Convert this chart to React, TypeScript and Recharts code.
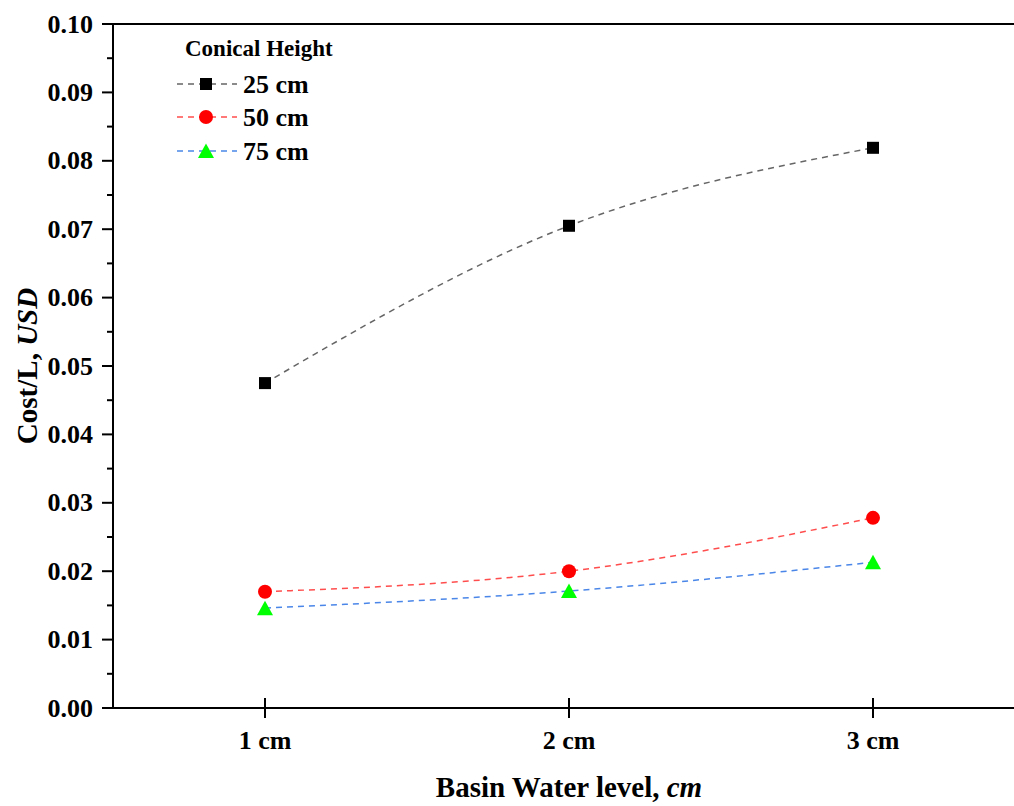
import React from 'react';
import { LineChart, Line, XAxis, YAxis, Legend, ReferenceLine } from 'recharts';

const waterLevels = [1, 2, 3];
const waterLevelLabels = ['1 cm', '2 cm', '3 cm'];
const seriesNames = ['25 cm', '50 cm', '75 cm'];
const cost25 = [0.0475, 0.0705, 0.0819];
const cost50 = [0.017, 0.02, 0.0278];
const cost75 = [0.0146, 0.0171, 0.0213];
const yMajorTicks = [0, 0.01, 0.02, 0.03, 0.04, 0.05, 0.06, 0.07, 0.08, 0.09, 0.1];
const yMinorTicks = [0.005, 0.015, 0.025, 0.035, 0.045, 0.055, 0.065, 0.075, 0.085, 0.095];

const data = waterLevels.map((x, i) => ({ x, c25: cost25[i], c50: cost50[i], c75: cost75[i] }));
const yTicks = [...yMajorTicks, ...yMinorTicks].sort((a, b) => a - b);

const FONT = "'Liberation Serif', 'Times New Roman', serif";
const COLORS = { c25: '#666666', c50: '#ff4d4d', c75: '#4a86e8' };

const isMajor = (v: number) => yMajorTicks.some((m) => Math.abs(m - v) < 1e-9);

const YTick = (props: any) => {
  const { x, y, payload } = props;
  const major = isMajor(payload.value);
  return (
    <g>
      <line x1={x - (major ? 11 : 6)} x2={x} y1={y} y2={y} stroke="#000" strokeWidth={2} />
      {major && (
        <text x={x - 20} y={y} textAnchor="end" dominantBaseline="central" fontFamily={FONT} fontWeight="bold" fontSize={26} fill="#000">
          {payload.value.toFixed(2)}
        </text>
      )}
    </g>
  );
};

const XTick = (props: any) => {
  const { x, y, payload } = props;
  const idx = waterLevels.indexOf(payload.value);
  return (
    <g>
      <line x1={x} x2={x} y1={y - 10} y2={y + 10} stroke="#000" strokeWidth={2} />
      <text x={x} y={y + 41} textAnchor="middle" fontFamily={FONT} fontWeight="bold" fontSize={26} fill="#000">
        {idx >= 0 ? waterLevelLabels[idx] : ''}
      </text>
    </g>
  );
};

const Square = (p: any) => (
  <rect key={`s-${p.index}`} x={p.cx - 6} y={p.cy - 6} width={12} height={12} fill="#000" />
);
const Circle = (p: any) => (
  <circle key={`c-${p.index}`} cx={p.cx} cy={p.cy} r={7} fill="#ff0000" />
);
const Triangle = (p: any) => (
  <polygon
    key={`t-${p.index}`}
    points={`${p.cx},${p.cy - 7.5} ${p.cx - 8},${p.cy + 7} ${p.cx + 8},${p.cy + 7}`}
    fill="#00ff00"
  />
);

const XLabel = (props: any) => {
  const vb = props.viewBox || {};
  const cx = vb.x + vb.width / 2;
  return (
    <text x={cx} y={797} textAnchor="middle" fontFamily={FONT} fontWeight="bold" fontSize={29} fill="#000">
      <tspan>Basin Water level, </tspan>
      <tspan fontStyle="italic">cm</tspan>
    </text>
  );
};

const YLabel = (props: any) => {
  const vb = props.viewBox || {};
  const cy = vb.y + vb.height / 2;
  const cx = 27;
  return (
    <text x={cx} y={cy} transform={`rotate(-90, ${cx}, ${cy})`} textAnchor="middle" dominantBaseline="central" fontFamily={FONT} fontWeight="bold" fontSize={29} fill="#000">
      <tspan>Cost/L, </tspan>
      <tspan fontStyle="italic">USD</tspan>
    </text>
  );
};

const LegendBox = () => {
  const rows = [
    { key: 'c25', y: 54, marker: 'square' },
    { key: 'c50', y: 87, marker: 'circle' },
    { key: 'c75', y: 121, marker: 'triangle' },
  ];
  return (
    <svg width={220} height={140} style={{ display: 'block', overflow: 'visible' }}>
      <text x={15} y={18} dominantBaseline="central" fontFamily={FONT} fontWeight="bold" fontSize={23} fill="#000">
        Conical Height
      </text>
      {rows.map((r, i) => (
        <g key={r.key}>
          <line x1={7} x2={67} y1={r.y} y2={r.y} stroke={(COLORS as any)[r.key]} strokeWidth={1.5} strokeDasharray="6 5" />
          {r.marker === 'square' && <rect x={30} y={r.y - 6} width={12} height={12} fill="#000" />}
          {r.marker === 'circle' && <circle cx={36} cy={r.y} r={7} fill="#ff0000" />}
          {r.marker === 'triangle' && (
            <polygon points={`36,${r.y - 7.5} 28,${r.y + 7} 44,${r.y + 7}`} fill="#00ff00" />
          )}
          <text x={73} y={r.y} dominantBaseline="central" fontFamily={FONT} fontWeight="bold" fontSize={26} fill="#000">
            {seriesNames[i]}
          </text>
        </g>
      ))}
    </svg>
  );
};

export default function App() {
  return (
    <div style={{ position: 'absolute', left: 0, top: 0, width: 1014, height: 806, overflow: 'hidden', background: '#fff' }}>
      <LineChart width={1031} height={806} data={data} margin={{ top: 24, right: 6, bottom: 0, left: 1 }}>
        <XAxis
          dataKey="x"
          type="number"
          domain={[0.5, 3.5]}
          ticks={waterLevels}
          interval={0}
          height={98}
          tickSize={0}
          tickMargin={0}
          tickLine={false}
          axisLine={{ stroke: '#000', strokeWidth: 2 }}
          tick={<XTick />}
          label={<XLabel />}
        />
        <YAxis
          type="number"
          domain={[0, 0.1]}
          ticks={yTicks}
          interval={0}
          width={112}
          tickSize={0}
          tickMargin={0}
          tickLine={false}
          axisLine={{ stroke: '#000', strokeWidth: 2 }}
          tick={<YTick />}
          label={<YLabel />}
          allowDataOverflow
        />
        <ReferenceLine y={0.1} stroke="#000" strokeWidth={2} />
        <ReferenceLine x={3.5} stroke="#000" strokeWidth={2} />
        <Legend
          layout="vertical"
          align="center"
          verticalAlign="middle"
          wrapperStyle={{ top: 30, left: 170, width: 220, height: 140 }}
          content={() => <LegendBox />}
        />
        <Line type="natural" dataKey="c25" name={seriesNames[0]} stroke={COLORS.c25} strokeWidth={1.5} strokeDasharray="6 5" dot={Square} activeDot={false} isAnimationActive={false} />
        <Line type="natural" dataKey="c50" name={seriesNames[1]} stroke={COLORS.c50} strokeWidth={1.5} strokeDasharray="6 5" dot={Circle} activeDot={false} isAnimationActive={false} />
        <Line type="natural" dataKey="c75" name={seriesNames[2]} stroke={COLORS.c75} strokeWidth={1.5} strokeDasharray="6 5" dot={Triangle} activeDot={false} isAnimationActive={false} />
      </LineChart>
    </div>
  );
}
